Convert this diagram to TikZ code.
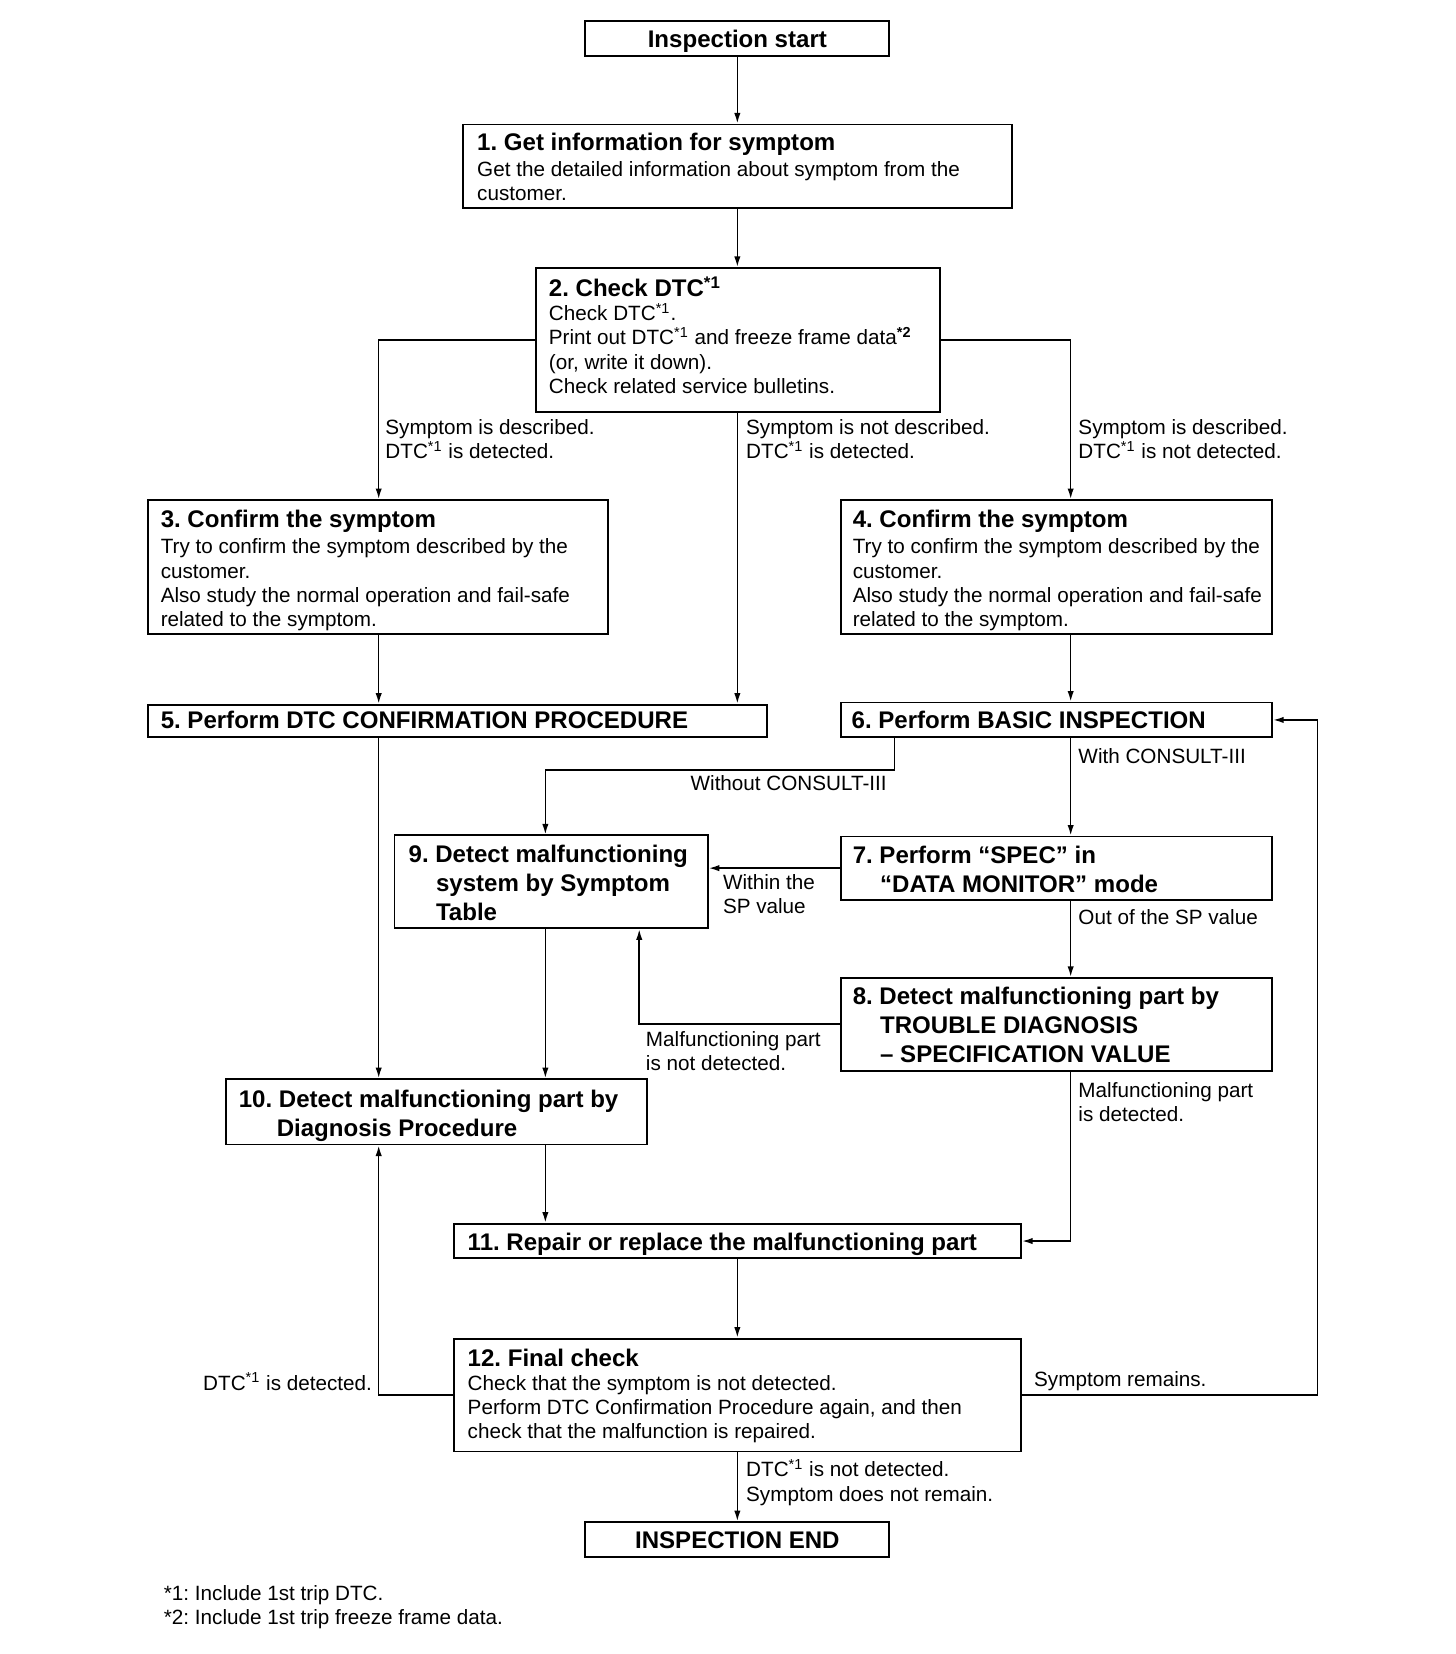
\documentclass[tikz,border=0pt]{standalone}
\usepackage{fontspec}
\setmainfont{Liberation Sans}
\usetikzlibrary{arrows.meta,fit}
\frenchspacing
\newcommand\bodyf{\fontsize{9.8}{11.5}\selectfont}
\newcommand\titf{\fontsize{11.4}{13.75}\selectfont\bfseries}
\tikzset{
  box/.style={draw, line width=0.9pt, inner sep=0pt},
  tt/.style={anchor=base west, inner sep=0pt, font=\titf, align=left},
  ttc/.style={anchor=base, inner sep=0pt, font=\titf},
  tx/.style={anchor=base west, inner sep=0pt, font=\bodyf, align=left},
  txe/.style={anchor=base east, inner sep=0pt, font=\bodyf, align=right},
  conn/.style={line width=0.75pt, -{Latex[length=5pt,width=3pt]}}
}
\begin{document}
\begin{tikzpicture}[x=0.5pt,y=-0.5pt]
\useasboundingbox[fill=white] (0,0) rectangle (1380,1568);
% column coordinates
\coordinate (colL) at (359,0);
\coordinate (colM) at (699,0);
\coordinate (colR) at (1015,0);
\coordinate (col9) at (517,0);
\coordinate (col9b) at (606,0);
\coordinate (colW) at (848,0);
\coordinate (loopR) at (1249,0);
% boxes (multi-line nodes are placed by the baseline of their last line)
\node[box, fit={(555,20) (843,53)}] (s) {};
\node[ttc] (ts) at (699,45) {Inspection start};
\node[box, fit={(439,118) (959,197)}] (b1) {};
\node[tt] (t1) at (452,143) {1. Get information for symptom};
\node[tx] (x1) at (452,190) {Get the detailed information about symptom from the\\customer.};
\node[box, fit={(508,254) (891,391)}] (b2) {};
\node[tt] (t2) at (520,281) {2. Check DTC\textsuperscript{*1}};
\node[tx] (x2) at (520,373) {Check DTC\textsuperscript{*1}.\\Print out DTC\textsuperscript{*1} and freeze frame data\textsuperscript{\bfseries *2}\\(or, write it down).\\Check related service bulletins.};
\node[box, fit={(140,474) (576,601)}] (b3) {};
\node[tt] (t3) at (152,500) {3. Confirm the symptom};
\node[tx] (x3) at (152,594) {Try to confirm the symptom described by the\\customer.\\Also study the normal operation and fail-safe\\related to the symptom.};
\node[box, fit={(797,474) (1206,601)}] (b4) {};
\node[tt] (t4) at (808,500) {4. Confirm the symptom};
\node[tx] (x4) at (808,594) {Try to confirm the symptom described by the\\customer.\\Also study the normal operation and fail-safe\\related to the symptom.};
\node[box, fit={(140,668) (727,699)}] (b5) {};
\node[tt] (t5) at (152,691) {5. Perform DTC CONFIRMATION PROCEDURE};
\node[box, fit={(797,666) (1206,699)}] (b6) {};
\node[tt] (t6) at (807,691) {6. Perform BASIC INSPECTION};
\node[box, fit={(374,792) (671,880)}] (b9) {};
\node[tt] (t9) at (387,873) {9. Detect malfunctioning\\\hspace*{13pt}system by Symptom\\\hspace*{13pt}Table};
\node[box, fit={(797,793) (1206,853)}] (b7) {};
\node[tt] (t7) at (808,846) {7. Perform “SPEC” in\\\hspace*{13pt}“DATA MONITOR” mode};
\node[box, fit={(797,927) (1206,1015)}] (b8) {};
\node[tt] (t8) at (808,1007) {8. Detect malfunctioning part by\\\hspace*{13pt}TROUBLE DIAGNOSIS\\\hspace*{13pt}– SPECIFICATION VALUE};
\node[box, fit={(214,1023) (613,1085)}] (b10) {};
\node[tt] (t10) at (226,1077) {10. Detect malfunctioning part by\\\hspace*{18pt}Diagnosis Procedure};
\node[box, fit={(430,1160) (968,1193)}] (b11) {};
\node[tt] (t11) at (443,1185) {11. Repair or replace the malfunctioning part};
\node[box, fit={(430,1269) (968,1376)}] (b12) {};
\node[tt] (t12) at (443,1295) {12. Final check};
\node[tx] (x12) at (443,1364) {Check that the symptom is not detected.\\Perform DTC Confirmation Procedure again, and then\\check that the malfunction is repaired.};
\node[box, fit={(555,1443) (843,1476)}] (e) {};
\node[ttc] (te) at (699,1468) {INSPECTION END};
% connectors
\draw[conn] (s.south -| colM) -- (colM |- b1.north);
\draw[conn] (b1.south -| colM) -- (colM |- b2.north);
\draw[conn] (b2.west) -| (colL |- b3.north);
\draw[conn] (b2.south -| colM) -- (colM |- b5.north);
\draw[conn] (b2.east) -| (colR |- b4.north);
\draw[conn] (b3.south -| colL) -- (colL |- b5.north);
\draw[conn] (b4.south -| colR) -- (colR |- b6.north);
\draw[conn] (b5.south -| colL) -- (colL |- b10.north);
\draw[conn] (b6.south -| colW) -- ++(0,30) -| (col9 |- b9.north);
\draw[conn] (b6.south -| colR) -- (colR |- b7.north);
\draw[conn] (b7.west) -- (b7.west -| b9.east);
\draw[conn] (b7.south -| colR) -- (colR |- b8.north);
\draw[conn] (b8.west) -| (col9b |- b9.south);
\draw[conn] (b9.south -| col9) -- (col9 |- b10.north);
\draw[conn] (b10.south -| col9) -- (col9 |- b11.north);
\draw[conn] (b8.south -| colR) |- (b11.east);
\draw[conn] (b11.south -| colM) -- (colM |- b12.north);
\draw[conn] (b12.west) -| (colL |- b10.south);
\draw[conn] (b12.east) -| (loopR |- b6.east) -- (b6.east);
\draw[conn] (b12.south -| colM) -- (colM |- e.north);
% labels
\node[tx] (l1) at (365,435) {Symptom is described.\\DTC\textsuperscript{*1} is detected.};
\node[tx] (l2) at (707,435) {Symptom is not described.\\DTC\textsuperscript{*1} is detected.};
\node[tx] (l3) at (1022,435) {Symptom is described.\\DTC\textsuperscript{*1} is not detected.};
\node[txe] (l4) at (841,749) {Without CONSULT-III};
\node[tx] (l5) at (1022,724) {With CONSULT-III};
\node[tx] (l6) at (685,866) {Within the\\SP value};
\node[tx] (l7) at (1022,876) {Out of the SP value};
\node[tx] (l8) at (612,1015) {Malfunctioning part\\is not detected.};
\node[tx] (l9) at (1022,1063) {Malfunctioning part\\is detected.};
\node[txe] (l10) at (353,1318) {DTC\textsuperscript{*1} is detected.};
\node[tx] (l11) at (980,1314) {Symptom remains.};
\node[tx] (l12) at (707,1423) {DTC\textsuperscript{*1} is not detected.\\Symptom does not remain.};
\node[tx] (f1) at (155,1540) {*1: Include 1st trip DTC.\\*2: Include 1st trip freeze frame data.};
\end{tikzpicture}
\end{document}
